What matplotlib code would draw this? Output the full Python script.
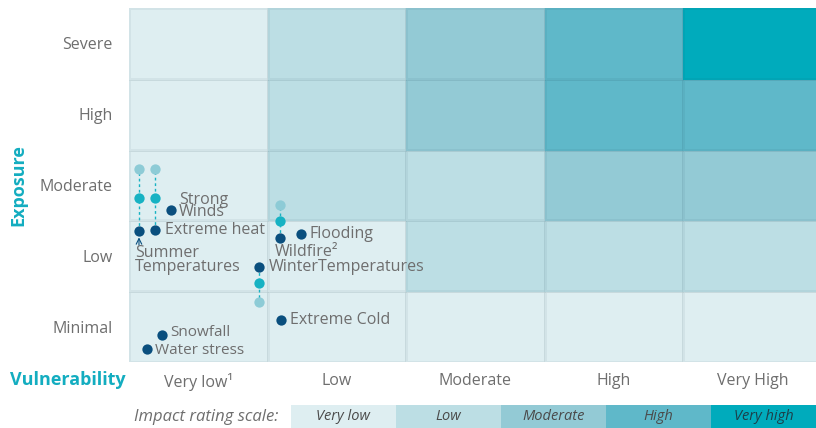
import numpy as np
import matplotlib
matplotlib.use("Agg")
import matplotlib.pyplot as plt
from matplotlib.colors import ListedColormap

plt.rcParams['font.family'] = ['Open Sans', 'DejaVu Sans']

# heat map levels (0 = very low ... 4 = very high), rows from Minimal up to Severe
exposure = ['Minimal', 'Low', 'Moderate', 'High', 'Severe']
vulnerability = ['Very low¹', 'Low', 'Moderate', 'High', 'Very High']
levels = [
    [0, 0, 0, 0, 0],
    [0, 0, 1, 1, 1],
    [0, 1, 1, 2, 2],
    [0, 1, 2, 3, 3],
    [0, 1, 2, 3, 4],
]
scale_names = ['Very low', 'Low', 'Moderate', 'High', 'Very high']
scale_colors = ['#deeef1', '#bcdee4', '#93cad5', '#5fb8c9', '#00abbc']

# single risks (vulnerability, exposure)
risk_names = ['Strong\nWinds', 'Flooding', 'Extreme Cold', 'Snowfall', 'Water stress']
risk_x = [0.30, 1.24, 1.10, 0.24, 0.13]
risk_y = [2.15, 1.81, 0.59, 0.38, 0.18]

# risks with a future trend: today, mid-term, long-term exposure
trend_names = ['Summer\nTemperatures', 'Extreme heat', 'Wildfire²', 'WinterTemperatures']
trend_x = [0.072, 0.188, 1.089, 0.938]
trend_now = [1.85, 1.86, 1.75, 1.34]
trend_mid = [2.32, 2.32, 1.99, 1.12]
trend_far = [2.73, 2.73, 2.22, 0.85]

dark = '#0a4f7e'
teal = '#17b2c3'
light = '#8dcbd6'
grey = '#6e6e6e'
accent = '#13adc0'

fig = plt.figure(figsize=(8.16, 4.28), dpi=100)
W, H = 816, 428
ax = fig.add_axes([129 / W, (H - 362) / H, (W - 129) / W, (362 - 8) / H])

cmap = ListedColormap(scale_colors)
ax.pcolormesh(np.arange(6), np.arange(6), np.array(levels), cmap=cmap, vmin=-0.5, vmax=4.5,
              edgecolors=(0.1, 0.25, 0.3, 0.06), linewidth=0.8)
ax.set_xlim(0, 687 / 138.6)
ax.set_ylim(0, 5)
for s in ax.spines.values():
    s.set_visible(False)

fs = 11.5
ax.set_xticks(np.arange(5) + 0.5)
ax.set_xticklabels(vulnerability, fontsize=fs, color=grey)
ax.set_yticks(np.arange(5) + 0.5)
ax.set_yticklabels(exposure, fontsize=fs, color=grey)
ax.tick_params(length=0)
ax.tick_params(axis='x', pad=8)
ax.tick_params(axis='y', pad=12)

fig.text(18 / W, 1 - 185 / H, 'Exposure', rotation=90, ha='center', va='center',
         fontsize=13, fontweight='bold', color=accent)
fig.text(10 / W, 1 - 380 / H, 'Vulnerability', ha='left', va='center',
         fontsize=13, fontweight='bold', color=accent)

# trend lines
for i in range(len(trend_names)):
    ax.plot([trend_x[i]] * 3, [trend_now[i], trend_mid[i], trend_far[i]], ls=(0, (2, 2)),
            lw=1, color=teal, zorder=3)
    ax.scatter([trend_x[i]], [trend_far[i]], s=55, color=light, zorder=4, lw=0)
    ax.scatter([trend_x[i]], [trend_mid[i]], s=55, color=teal, zorder=4, lw=0)
    ax.scatter([trend_x[i]], [trend_now[i]], s=55, color=dark, zorder=4, lw=0)

ax.scatter(risk_x, risk_y, s=55, color=dark, zorder=4, lw=0)

# labels next to the dots (small nudges keep Snowfall / Water stress apart)
label_dy = [0.05, 0.0, 0.0, 0.04, -0.02]
label_fs = [fs, fs, fs, 11, 11]
ax.text(risk_x[0] + 0.06, risk_y[0] + label_dy[0], risk_names[0], fontsize=fs, color=grey,
        va='center', ha='left', linespacing=0.7)
for i in range(1, len(risk_names)):
    ax.text(risk_x[i] + 0.06, risk_y[i] + label_dy[i], risk_names[i], fontsize=label_fs[i],
            color=grey, va='center', ha='left')

ax.annotate('', xy=(trend_x[0], trend_now[0] - 0.09), xytext=(trend_x[0], trend_now[0] - 0.2),
            arrowprops=dict(arrowstyle='->', color=dark, lw=0.8, shrinkA=0, shrinkB=0))
ax.text(trend_x[0] - 0.03, trend_now[0] - 0.2, trend_names[0], fontsize=fs, color=grey,
        va='top', ha='left', linespacing=0.8)
ax.text(trend_x[1] + 0.07, trend_now[1], trend_names[1], fontsize=fs, color=grey,
        va='center', ha='left')
ax.text(trend_x[2] - 0.04, trend_now[2] - 0.2, trend_names[2], fontsize=fs, color=grey,
        va='center', ha='left')
ax.text(trend_x[3] + 0.07, trend_now[3], trend_names[3], fontsize=fs, color=grey,
        va='center', ha='left')

# impact rating scale
lax = fig.add_axes([291 / W, 0, (W - 291) / W, 23 / H])
lax.barh([0] * 5, [1] * 5, left=np.arange(5), height=1, color=scale_colors)
lax.set_xlim(0, 5)
lax.set_ylim(-0.5, 0.5)
lax.axis('off')
for i, name in enumerate(scale_names):
    lax.text(i + 0.5, 0, name, ha='center', va='center', fontsize=10.5, style='italic',
             color='#1d3f4a' if i == 4 else '#4a4a4a')
fig.text(278 / W, 1 - 417 / H, 'Impact rating scale:', ha='right', va='center',
         fontsize=12, style='italic', color=grey)

fig.savefig('out.png', dpi=100)
